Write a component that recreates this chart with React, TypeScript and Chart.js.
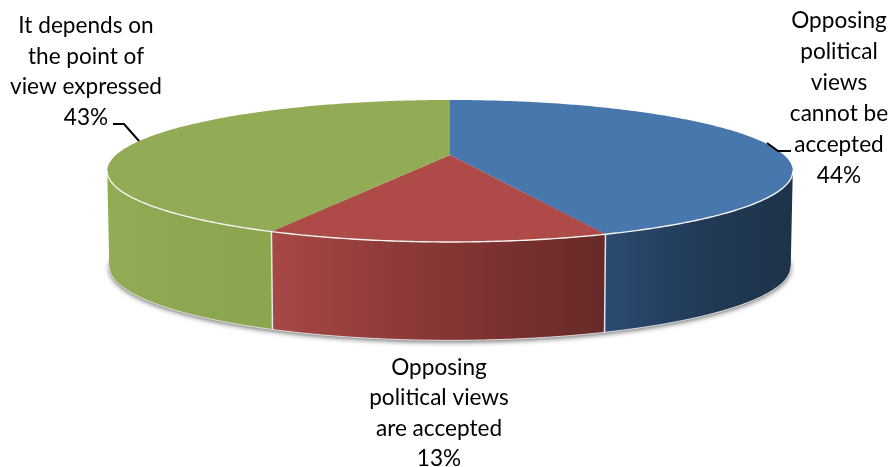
import React, { useEffect, useRef } from "react";
import { Chart, registerables } from "chart.js";

Chart.register(...registerables);

const categories: string[][] = [
  ["Opposing", "political", "views", "cannot be", "accepted"],
  ["Opposing", "political views", "are accepted"],
  ["It depends on", "the point of", "view expressed"],
];
const shares = [44, 13, 43];
const topColors = ["#4777ad", "#ae4a48", "#92ab55"];
const wallStops = [
  ["#2b4b71", "#213a57", "#1e3349"],
  ["#a64846", "#873635", "#662a28"],
  ["#92ac55", "#8da650", "#8ca54f"],
];
const labelAnchors = [
  { x: 839, y: 28, step: 30.9 },
  { x: 439, y: 375, step: 30.4 },
  { x: 86, y: 33, step: 30.6 },
];

// Tilted-disc projection: the far side of the disc shrinks, the near side grows.
const CX = 450;
const TILT = -0.225;
const TOP = { y: 155, rx: 334, ry: 67.4 };
const BASE = { y: 250, rx: 332, ry: 70 };

type Face = { y: number; rx: number; ry: number };

const project = (f: Face, a: number): [number, number] => {
  const u = Math.cos(a);
  const v = Math.sin(a);
  const w = 1 + TILT * v;
  return [CX + (f.rx * u) / w, f.y + (f.ry * v) / w];
};

const traceArc = (ctx: CanvasRenderingContext2D, f: Face, from: number, to: number, join: boolean) => {
  const n = Math.max(8, Math.ceil(Math.abs(to - from) * 90));
  for (let i = 0; i <= n; i++) {
    const [x, y] = project(f, from + ((to - from) * i) / n);
    if (i === 0 && !join) ctx.moveTo(x, y);
    else ctx.lineTo(x, y);
  }
};

const tiltedPie = {
  id: "tiltedPie",
  beforeDatasetsDraw(chart: Chart) {
    const ctx = chart.ctx;
    const arcs = chart.getDatasetMeta(0).data as any[];
    const frontStart = Math.asin(-TILT);
    const frontEnd = Math.PI - frontStart;

    // Soft shadow under the base of the disc
    ctx.save();
    ctx.shadowColor = "rgba(0,0,0,0.55)";
    ctx.shadowBlur = 5;
    ctx.shadowOffsetY = 2;
    ctx.fillStyle = "#c8c8c8";
    ctx.beginPath();
    traceArc(ctx, BASE, 0, Math.PI * 2, false);
    ctx.closePath();
    ctx.fill();
    ctx.restore();

    // Side walls of the front half
    arcs.forEach((arc, i) => {
      const from = Math.max(arc.startAngle, frontStart);
      const to = Math.min(arc.endAngle, frontEnd);
      if (to <= from) return;
      const [xa] = project(TOP, from);
      const [xb] = project(TOP, to);
      const g = ctx.createLinearGradient(Math.min(xa, xb), 0, Math.max(xa, xb), 0);
      wallStops[i].forEach((c, k) => g.addColorStop(k / 2, c));
      ctx.fillStyle = g;
      ctx.beginPath();
      traceArc(ctx, TOP, from, to, false);
      traceArc(ctx, BASE, to, from, true);
      ctx.closePath();
      ctx.fill();
    });

    // Pale lower rim and the seams between walls
    ctx.lineWidth = 1;
    ctx.strokeStyle = "rgba(235,235,235,0.85)";
    ctx.beginPath();
    traceArc(ctx, BASE, frontStart, frontEnd, false);
    ctx.stroke();
    ctx.lineWidth = 1.5;
    arcs.forEach((arc) => {
      if (arc.endAngle <= frontStart || arc.endAngle >= frontEnd) return;
      const [x1, y1] = project(TOP, arc.endAngle);
      const [x2, y2] = project(BASE, arc.endAngle);
      ctx.strokeStyle = "#e6e6e6";
      ctx.beginPath();
      ctx.moveTo(x1, y1);
      ctx.lineTo(x2, y2);
      ctx.stroke();
    });

    // Upper face of each slice
    arcs.forEach((arc, i) => {
      ctx.fillStyle = topColors[i];
      ctx.beginPath();
      ctx.moveTo(CX, TOP.y);
      traceArc(ctx, TOP, arc.startAngle, arc.endAngle, true);
      ctx.closePath();
      ctx.fill();
    });

    // White rim where the upper face meets the walls
    ctx.lineWidth = 1.4;
    ctx.strokeStyle = "#f4f4f4";
    ctx.beginPath();
    traceArc(ctx, TOP, frontStart, frontEnd, false);
    ctx.stroke();

    // Leader lines
    ctx.strokeStyle = "#000";
    ctx.lineWidth = 2;
    ctx.beginPath();
    ctx.moveTo(113, 124);
    ctx.lineTo(124, 124);
    ctx.lineTo(139, 141);
    ctx.moveTo(767, 143);
    ctx.lineTo(778, 151);
    ctx.lineTo(791, 151);
    ctx.stroke();

    // Slice labels with their share of the total
    ctx.fillStyle = "#000";
    ctx.font = '22.6px Lato, "Open Sans", sans-serif';
    ctx.textAlign = "center";
    ctx.textBaseline = "alphabetic";
    categories.forEach((lines, i) => {
      const a = labelAnchors[i];
      [...lines, `${shares[i]}%`].forEach((t, k) => ctx.fillText(t, a.x, a.y + a.step * k));
    });
    return false;
  },
};

export default function App() {
  const ref = useRef<HTMLCanvasElement>(null);
  useEffect(() => {
    document.body.style.margin = "0";
    document.body.style.background = "#fff";
    const chart = new Chart(ref.current!, {
      type: "pie",
      data: {
        labels: categories.map((l) => l.join(" ")),
        datasets: [{ data: shares, backgroundColor: topColors, borderWidth: 0 }],
      },
      options: {
        responsive: false,
        animation: false,
        plugins: { legend: { display: false }, tooltip: { enabled: false } },
      },
      plugins: [tiltedPie],
    } as any);
    return () => chart.destroy();
  }, []);
  return <canvas ref={ref} width={892} height={467} style={{ display: "block" }} />;
}
